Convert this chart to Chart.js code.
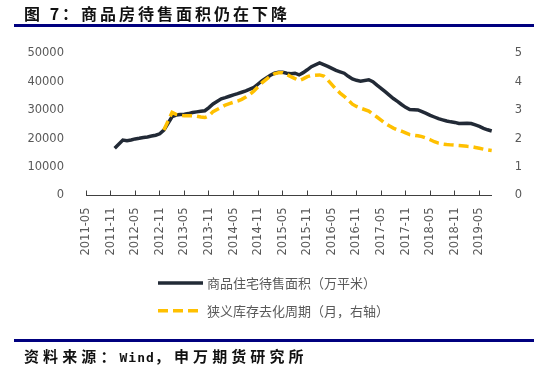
<!DOCTYPE html>
<html>
<head>
<meta charset="utf-8">
<script src="https://cdn.jsdelivr.net/npm/chart.js@4"></script>
<style>
  html, body { margin: 0; padding: 0; background: #fff; }
  #wrap { position: relative; width: 548px; height: 371px; overflow: hidden; background: #fff; }
  #c { position: absolute; left: 0; top: 0; }
  .title { position: absolute; left: 24px; top: 5px; font: bold 16px/16px "Noto Sans CJK SC", sans-serif; letter-spacing: 3px; color: #111; white-space: nowrap; }
  .rule { position: absolute; left: 14px; width: 520px; height: 3px; background: #00007f; }
  .foot { position: absolute; left: 24px; top: 348px; font: bold 15px/16px "Noto Sans CJK SC", sans-serif; letter-spacing: 4.1px; color: #111; white-space: nowrap; }
  .foot .en { font-family: "DejaVu Sans Mono", monospace; font-size: 13px; letter-spacing: 1px; }
</style>
</head>
<body>
<div id="wrap">
  <canvas id="c" width="548" height="371"></canvas>
  <div class="title">图 7：商品房待售面积仍在下降</div>
  <div class="rule" style="top:24px"></div>
  <div class="rule" style="top:339px"></div>
  <div class="foot">资料来源：<span class="en">Wind</span>，申万期货研究所</div>
</div>
<script>
// ---- data ----
const months = [
  '2011-05','2011-06','2011-07','2011-08','2011-09','2011-10','2011-11','2011-12',
  '2012-01','2012-02','2012-03','2012-04','2012-05','2012-06','2012-07','2012-08','2012-09','2012-10','2012-11','2012-12',
  '2013-01','2013-02','2013-03','2013-04','2013-05','2013-06','2013-07','2013-08','2013-09','2013-10','2013-11','2013-12',
  '2014-01','2014-02','2014-03','2014-04','2014-05','2014-06','2014-07','2014-08','2014-09','2014-10','2014-11','2014-12',
  '2015-01','2015-02','2015-03','2015-04','2015-05','2015-06','2015-07','2015-08','2015-09','2015-10','2015-11','2015-12',
  '2016-01','2016-02','2016-03','2016-04','2016-05','2016-06','2016-07','2016-08','2016-09','2016-10','2016-11','2016-12',
  '2017-01','2017-02','2017-03','2017-04','2017-05','2017-06','2017-07','2017-08','2017-09','2017-10','2017-11','2017-12',
  '2018-01','2018-02','2018-03','2018-04','2018-05','2018-06','2018-07','2018-08','2018-09','2018-10','2018-11','2018-12',
  '2019-01','2019-02','2019-03','2019-04','2019-05','2019-06','2019-07','2019-08'
];
const tickLabels = ['2011-05','2011-11','2012-05','2012-11','2013-05','2013-11','2014-05','2014-11',
  '2015-05','2015-11','2016-05','2016-11','2017-05','2017-11','2018-05','2018-11','2019-05'];

// 商品住宅待售面积（万平米）
const housingStock = [
  null,null,null,null,null,null,null,16600,
  null,19500,19300,19500,19900,20100,20400,20600,20900,21200,21700,23000,
  null,27700,28300,28500,28600,28800,29200,29400,29600,29800,30900,32200,
  null,34000,34400,34900,35400,35800,36300,36800,37400,38000,39200,40400,
  null,42300,43000,43300,43300,43000,42800,43000,42400,43200,44200,45300,
  null,46600,46000,45400,44700,44000,43500,43000,41900,41000,40500,40200,
  null,40700,40000,38800,37700,36500,35300,34100,33100,32000,31000,30200,
  null,30100,29500,28900,28200,27600,27000,26600,26200,25900,25700,25300,
  null,25400,25300,24800,24300,23600,23100,22700
];
// 狭义库存去化周期（月，右轴）
const destockMonths = [
  null,null,null,null,null,null,null,null,
  null,null,null,null,null,null,null,null,null,null,null,2.30,
  null,2.92,2.85,2.82,2.80,2.80,2.80,2.79,2.76,2.74,2.80,2.95,
  null,3.10,3.18,3.23,3.28,3.32,3.38,3.46,3.56,3.68,3.82,3.97,
  null,4.20,4.28,4.32,4.32,4.25,4.18,4.11,4.04,4.10,4.18,4.22,
  null,4.24,4.20,4.06,3.90,3.74,3.60,3.49,3.35,3.21,3.13,3.07,
  null,2.97,2.86,2.76,2.65,2.54,2.45,2.37,2.31,2.26,2.20,2.14,
  null,2.10,2.07,2.02,1.96,1.89,1.84,1.81,1.79,1.78,1.77,1.76,
  null,1.73,1.72,1.69,1.66,1.63,1.60,1.58
];
const seriesNames = ['商品住宅待售面积（万平米）', '狭义库存去化周期（月，右轴）'];

// ---- custom stacked legend ----
const stackedLegend = {
  id: 'stackedLegend',
  afterDraw(chart) {
    const ctx = chart.ctx;
    const x0 = 158, len = 45, tx = 207, y0 = 283, row = 27.7;
    chart.data.datasets.forEach((ds, i) => {
      const y = y0 + i * row;
      ctx.save();
      ctx.strokeStyle = ds.borderColor;
      ctx.lineWidth = ds.borderWidth;
      ctx.setLineDash(ds.borderDash || []);
      ctx.lineCap = 'butt';
      ctx.beginPath();
      ctx.moveTo(x0, y);
      ctx.lineTo(x0 + len, y);
      ctx.stroke();
      ctx.setLineDash([]);
      ctx.fillStyle = '#595959';
      ctx.font = '13px "Noto Sans CJK SC", sans-serif';
      ctx.textBaseline = 'middle';
      ctx.textAlign = 'left';
      ctx.fillText(ds.label, tx, y);
      ctx.restore();
    });
  }
};

const tickFont = { family: '"DejaVu Sans", sans-serif', size: 11.5 };
const tickColor = '#595959';

new Chart(document.getElementById('c'), {
  type: 'line',
  data: {
    labels: months,
    datasets: [
      {
        label: seriesNames[0],
        data: housingStock,
        yAxisID: 'y',
        borderColor: '#222a36',
        backgroundColor: '#222a36',
        borderWidth: 3.5,
        pointRadius: 0,
        spanGaps: true,
        tension: 0,
        order: 1
      },
      {
        label: seriesNames[1],
        data: destockMonths,
        yAxisID: 'y1',
        borderColor: '#FFC000',
        backgroundColor: '#FFC000',
        borderWidth: 3.5,
        borderDash: [10, 5],
        pointRadius: 0,
        spanGaps: true,
        tension: 0,
        order: 0
      }
    ]
  },
  options: {
    responsive: false,
    animation: false,
    layout: { padding: { top: 53.3, left: 0, right: 0, bottom: 0 } },
    plugins: { legend: { display: false }, tooltip: { enabled: false }, title: { display: false } },
    scales: {
      x: {
        type: 'category',
        offset: false,
        afterBuildTicks: (scale) => {
          scale.ticks = scale.ticks.filter(t => tickLabels.includes(months[t.value]));
        },
        afterFit: (scale) => { scale.height = 175.5; },
        grid: { display: true, drawOnChartArea: false, drawTicks: true, tickLength: -5, color: '#404040', lineWidth: 1 },
        border: { display: true, color: '#404040', width: 1 },
        ticks: { autoSkip: false, minRotation: 90, maxRotation: 90, padding: 17, color: tickColor, font: tickFont }
      },
      y: {
        position: 'left',
        min: 0, max: 50000,
        afterFit: (scale) => { scale.width = 86; },
        grid: { display: false },
        border: { display: false },
        ticks: { stepSize: 10000, padding: 14, color: tickColor, font: tickFont, callback: v => String(v) }
      },
      y1: {
        position: 'right',
        min: 0, max: 5,
        afterFit: (scale) => { scale.width = 56.3; },
        grid: { display: false },
        border: { display: false },
        ticks: { stepSize: 1, padding: 15, color: tickColor, font: tickFont, callback: v => String(v) }
      }
    }
  },
  plugins: [stackedLegend]
});
</script>
</body>
</html>
